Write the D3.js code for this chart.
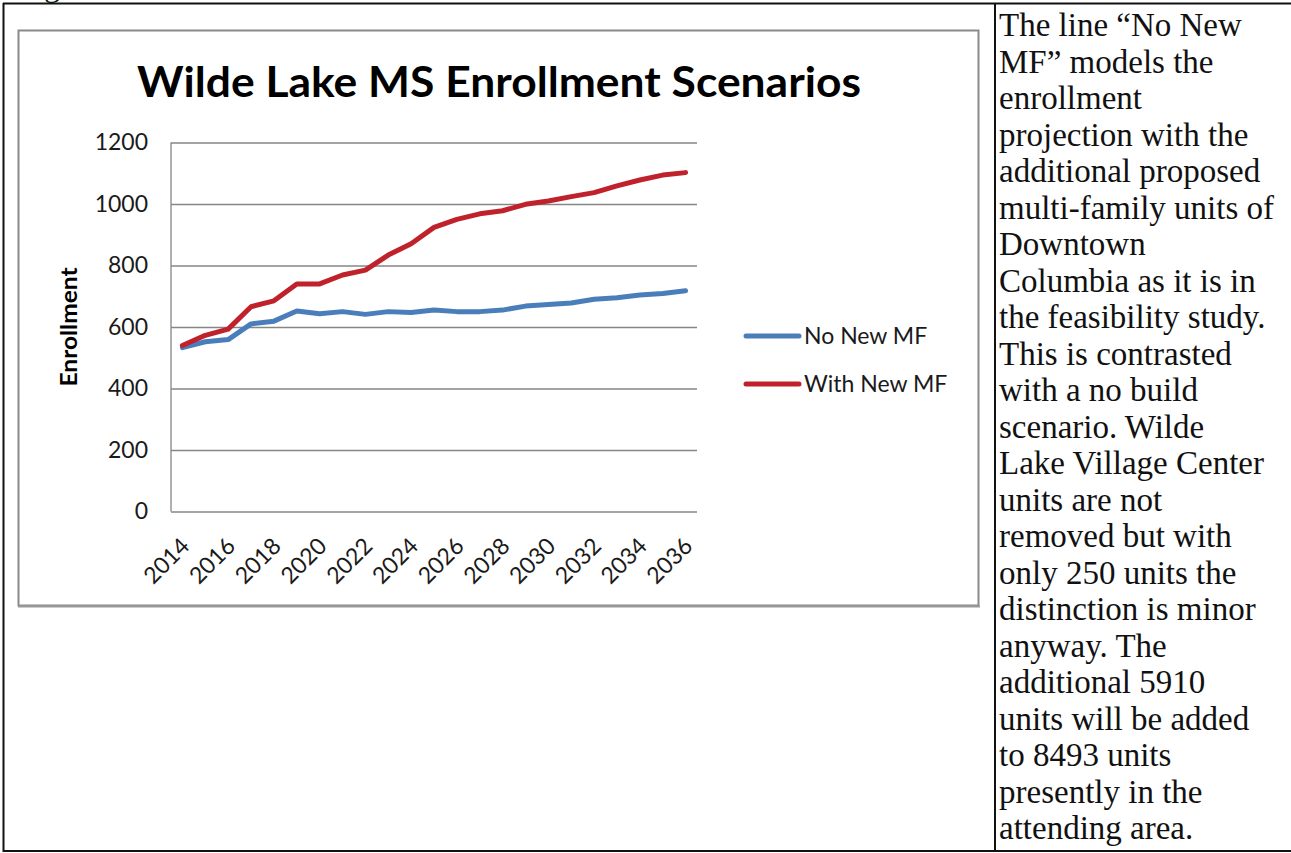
<!DOCTYPE html>
<html><head><meta charset="utf-8">
<script src="https://cdn.jsdelivr.net/npm/d3@7"></script>
<style>body{margin:0;background:#fff;overflow:hidden}</style>
</head><body><svg id="c" width="1291" height="853"></svg>
<script>
const years = ["2014","2015","2016","2017","2018","2019","2020","2021","2022","2023","2024","2025","2026","2027","2028","2029","2030","2031","2032","2033","2034","2035","2036"];
const noNewMF   = [533,552,559,610,619,652,643,650,641,650,647,655,650,650,655,668,673,678,690,695,704,709,718];
const withNewMF = [540,573,593,666,685,740,740,769,785,834,871,924,950,968,978,999,1010,1024,1037,1059,1078,1094,1102];
const yTicks = [0,200,400,600,800,1000,1200];
const xTickLabels = ["2014","2016","2018","2020","2022","2024","2026","2028","2030","2032","2034","2036"];
const seriesNames = ["No New MF","With New MF"];
const seriesColors = ["#4a7ebb","#c0222b"];
const chartTitle = "Wilde Lake MS Enrollment Scenarios";
const yTitle = "Enrollment";
const noteLines = [
  "The line \u201cNo New","MF\u201d models the","enrollment","projection with the","additional proposed",
  "multi-family units of","Downtown","Columbia as it is in","the feasibility study.","This is contrasted",
  "with a no build","scenario. Wilde","Lake Village Center","units are not","removed but with",
  "only 250 units the","distinction is minor","anyway. The","additional 5910","units will be added",
  "to 8493 units","presently in the","attending area."
];

const svg = d3.select("#c");
svg.append("rect").attr("width",1291).attr("height",853).attr("fill","#fff");

// table borders
const tb = svg.append("g").attr("stroke","#111").attr("stroke-width",2);
tb.append("line").attr("x1",3).attr("x2",1291).attr("y1",3.5).attr("y2",3.5);
tb.append("line").attr("x1",3.5).attr("x2",3.5).attr("y1",3).attr("y2",852);
tb.append("line").attr("x1",3).attr("x2",1291).attr("y1",851).attr("y2",851);
tb.append("line").attr("x1",995).attr("x2",995).attr("y1",3).attr("y2",852);

// stray descender of the caption text above the table (cut off in the reference too)
svg.append("text").attr("x",44).attr("y",-4).attr("font-family","Liberation Serif").attr("font-size",32).attr("fill","#111").text("g");

// chart frame
svg.append("rect").attr("x",18.5).attr("y",30.5).attr("width",960).attr("height",575)
  .attr("fill","#fff").attr("stroke","#8a8a8a").attr("stroke-width",2);
svg.append("line").attr("x1",18).attr("x2",980).attr("y1",606.5).attr("y2",606.5).attr("stroke","#9a9a9a").attr("stroke-width",2);

// title
svg.append("text").attr("x",499).attr("y",97).attr("text-anchor","middle")
  .attr("font-family","Lato").attr("font-weight",700).attr("font-size",42).attr("fill","#000")
  .attr("textLength",724).attr("lengthAdjust","spacingAndGlyphs").text(chartTitle);

const L = 171, R = 697, T = 142.5, B = 511.5;
const x = d3.scalePoint().domain(years).range([L,R]).padding(0.5);
const y = d3.scaleLinear().domain([0,1200]).range([B,T]);

// y axis with gridlines
const ga = svg.append("g").attr("transform",`translate(${L},0)`)
  .call(d3.axisLeft(y).tickValues(yTicks).tickSize(-(R-L)).tickPadding(23).tickFormat(d3.format("d")));
ga.select(".domain").remove();
ga.selectAll(".tick line").attr("stroke","#868686").attr("stroke-width",1.3);
ga.selectAll(".tick text").attr("font-family","Lato").attr("font-size",23).attr("fill","#1a1a1a");
svg.append("line").attr("x1",L).attr("x2",L).attr("y1",T).attr("y2",B).attr("stroke","#868686").attr("stroke-width",1.3);

// x axis labels
const gx = svg.append("g").attr("transform",`translate(0,${B})`)
  .call(d3.axisBottom(x).tickValues(xTickLabels).tickSize(0));
gx.select(".domain").remove();
gx.selectAll(".tick text").attr("font-family","Lato").attr("font-size",23).attr("fill","#1a1a1a")
  .attr("x",0).attr("y",0).attr("dy",0).attr("text-anchor","end")
  .attr("transform","translate(8,36) rotate(-45)");

// y title
svg.append("text").attr("transform","translate(77,327) rotate(-90)").attr("text-anchor","middle")
  .attr("font-family","Lato").attr("font-weight",700).attr("font-size",22).attr("fill","#000")
  .attr("textLength",119).attr("lengthAdjust","spacingAndGlyphs").text(yTitle);

// lines
const line = d3.line().x((d,i)=>x(years[i])).y(d=>y(d));
[noNewMF, withNewMF].forEach((s,k)=>{
  svg.append("path").datum(s).attr("d",line).attr("fill","none")
    .attr("stroke",seriesColors[k]).attr("stroke-width",5)
    .attr("stroke-linejoin","round").attr("stroke-linecap","round");
});

// legend
const lg = svg.append("g");
seriesNames.forEach((n,k)=>{
  const yy = 336 + k*48;
  lg.append("line").attr("x1",746).attr("x2",799).attr("y1",yy).attr("y2",yy)
    .attr("stroke",seriesColors[k]).attr("stroke-width",5).attr("stroke-linecap","round");
  lg.append("text").attr("x",804).attr("y",yy+8).attr("font-family","Lato").attr("font-size",23)
    .attr("fill","#1a1a1a").text(n);
});

// note text
const nt = svg.append("g").attr("font-family","'Liberation Serif', 'Times New Roman', serif").attr("font-size",33).attr("fill","#111");
noteLines.forEach((t,i)=>{
  nt.append("text").attr("x",999).attr("y",36 + i*36.5).text(t);
});
</script></body></html>
